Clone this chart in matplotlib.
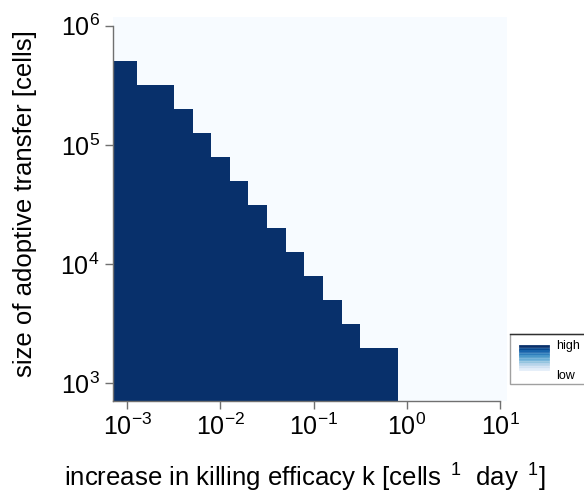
import numpy as np
import matplotlib
matplotlib.use("Agg")
import matplotlib.pyplot as plt
from matplotlib.patches import Rectangle
from matplotlib.ticker import LogFormatterSciNotation, NullLocator

plt.rcParams['font.family'] = ['Liberation Sans', 'DejaVu Sans']
plt.rcParams['mathtext.fontset'] = 'custom'
plt.rcParams['mathtext.rm'] = 'Liberation Sans'
plt.rcParams['mathtext.it'] = 'Liberation Sans:italic'
plt.rcParams['mathtext.bf'] = 'Liberation Sans:bold'

# ---- data ----
# log10 of killing-efficacy increase (column centres)
k_log_centers = [-3.0, -2.8, -2.6, -2.4, -2.2, -2.0, -1.8, -1.6, -1.4, -1.2,
                 -1.0, -0.8, -0.6, -0.4, -0.2, 0.0, 0.2, 0.4, 0.6, 0.8, 1.0]
# log10 of adoptive transfer size (row centres)
size_log_centers = [3.0, 3.2, 3.4, 3.6, 3.8, 4.0, 4.2, 4.4, 4.6, 4.8,
                    5.0, 5.2, 5.4, 5.6, 5.8, 6.0]
# highest row (log10 cells) that is "high" in each column (None: none)
high_upto_log = [5.6, 5.4, 5.4, 5.2, 5.0, 4.8, 4.6, 4.4, 4.2, 4.0,
                 3.8, 3.6, 3.4, 3.2, 3.2, None, None, None, None, None, None]

x_ticks = [1e-3, 1e-2, 1e-1, 1e0, 1e1]
y_ticks = [1e3, 1e4, 1e5, 1e6]

# ---- build grid ----
xc = np.array(k_log_centers)
yc = np.array(size_log_centers)
x_edges = np.concatenate([[-3.15], (xc[:-1] + xc[1:]) / 2, [1.07]])
y_edges = np.concatenate([[2.852], (yc[:-1] + yc[1:]) / 2, [6.075]])
Z = np.zeros((len(yc), len(xc)))
for j, t in enumerate(high_upto_log):
    if t is not None:
        Z[yc <= t + 1e-9, j] = 1.0

W, H = 584, 494
fig = plt.figure(figsize=(W / 100, H / 100), dpi=100)
ax_l, ax_r, ax_t, ax_b = 113.3, 500.0, 25.7, 401.0
ax = fig.add_axes([ax_l / W, 1 - ax_b / H, (ax_r - ax_l) / W, (ax_b - ax_t) / H])

mesh = ax.pcolormesh(10 ** x_edges, 10 ** y_edges, Z, cmap='Blues', vmin=0, vmax=1,
                     shading='flat', clip_on=False, zorder=0)
ax.set_xscale('log')
ax.set_yscale('log')
ax.set_xlim(10 ** -3.15, 10 ** 1.0)
ax.set_ylim(10 ** 2.852, 10 ** 6.0)
ax.set_xticks(x_ticks)
ax.set_yticks(y_ticks)
ax.xaxis.set_minor_locator(NullLocator())
ax.yaxis.set_minor_locator(NullLocator())
ax.xaxis.set_major_formatter(LogFormatterSciNotation())
ax.yaxis.set_major_formatter(LogFormatterSciNotation())

for s in ['top', 'right']:
    ax.spines[s].set_visible(False)
for s in ['left', 'bottom']:
    ax.spines[s].set_color('#707070')
    ax.spines[s].set_linewidth(1.0)
    ax.spines[s].set_zorder(3)
ax.tick_params(direction='out', length=5.8, width=1.0, color='#707070',
               labelsize=18, labelcolor='black', pad=3)
ax.tick_params(axis='y', pad=4)

ax.set_xlabel('increase in killing efficacy k [cells$^{\\ \\ 1}$  day$^{\\ \\ 1}$]',
              fontsize=18.5)
ax.xaxis.set_label_coords((305 - ax_l) / (ax_r - ax_l), (ax_b - 478) / (ax_b - ax_t))
ax.xaxis.label.set_va('center')
ax.set_ylabel('size of adoptive transfer [cells]', fontsize=18.5)
ax.yaxis.set_label_coords((25 - ax_l) / (ax_r - ax_l), (ax_b - 204) / (ax_b - ax_t))
ax.yaxis.label.set_va('center')

# ---- legend box ----
def fx(px):
    return px / W

def fy(py):
    return 1 - py / H

cmap = plt.get_cmap('Blues')
fig.patches.append(Rectangle((fx(510), fy(384)), fx(90), 50 / H, transform=fig.transFigure,
                             facecolor='white', edgecolor='#a0a0a0', lw=1.0))
fig.lines.append(plt.Line2D([fx(510), fx(590)], [fy(334), fy(334)],
                            transform=fig.transFigure, color='#303030', lw=1.0))
levels = [1.0, 0.9, 0.8, 0.7, 0.6, 0.5, 0.4, 0.3, 0.2, 0.1]
for i, lv in enumerate(levels):
    yy = 346 + i * 2.6
    fig.lines.append(plt.Line2D([fx(520), fx(547.5)], [fy(yy), fy(yy)],
                                transform=fig.transFigure, color=cmap(lv), lw=2.0))
fig.text(fx(556), fy(346), 'high', fontsize=9, va='center', ha='left')
fig.text(fx(556), fy(376), 'low', fontsize=9, va='center', ha='left')

fig.savefig('out.png', dpi=100)
